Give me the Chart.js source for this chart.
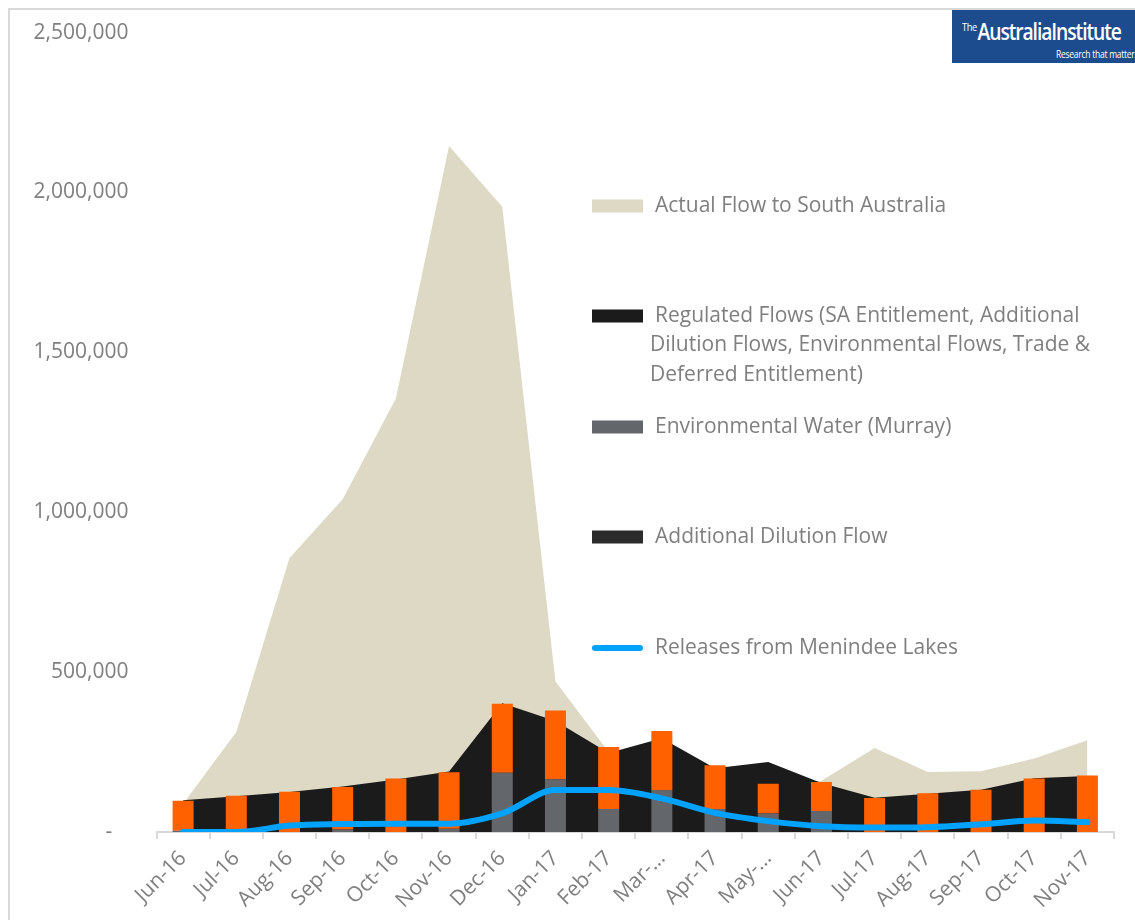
<!DOCTYPE html>
<html>
<head>
<meta charset="utf-8">
<script src="https://cdn.jsdelivr.net/npm/chart.js@4/dist/chart.umd.min.js"></script>
<style>
body{margin:0;background:#fff;}
#wrap{position:relative;width:1135px;height:920px;overflow:hidden;}
#frame{position:absolute;left:8px;top:8px;width:2000px;height:2000px;border-left:2px solid #d9d9d9;border-top:2px solid #d9d9d9;}
#logo{position:absolute;left:952px;top:10px;width:200px;height:53px;background:#1d4c8e;color:#fff;font-family:"Open Sans",sans-serif;}
#logo .name{position:absolute;left:10px;top:5px;font-size:23px;font-weight:600;letter-spacing:-1.3px;white-space:nowrap;transform:scaleX(0.84);transform-origin:left top;}
#logo .name sup{font-size:11px;letter-spacing:-0.5px;vertical-align:9px;margin-right:1px;font-weight:400;}
#logo .tag{position:absolute;left:104px;top:37px;font-size:10px;white-space:nowrap;letter-spacing:-0.3px;transform:scaleX(0.85);transform-origin:left top;}
canvas{position:absolute;left:0;top:0;}
</style>
</head>
<body>
<div id="wrap">
<div id="frame"></div>
<canvas id="myChart" width="1135" height="920"></canvas>
<div id="logo"><div class="name"><sup>The</sup>AustraliaInstitute</div><div class="tag">Research that matters</div></div>
</div>
<script>
const GREY_TEXT = '#7f7f7f'
const FONT = '"Open Sans", sans-serif'

var months = ['Jun-16','Jul-16','Aug-16','Sep-16','Oct-16','Nov-16','Dec-16','Jan-17','Feb-17','Mar-...','Apr-17','May-...','Jun-17','Jul-17','Aug-17','Sep-17','Oct-17','Nov-17']

var actualFlow = [88000,313000,857000,1041000,1356000,2145000,1955000,471000,250000,230000,170000,150000,160000,263000,188000,190000,230000,287000]
var regulatedFlow = [99000,112000,125000,142000,164000,189000,403000,347000,247000,293000,199000,219000,153000,107000,120000,132000,168000,175000]
var envWater = [4000,0,0,8000,0,10000,185000,165000,72000,131000,72000,58000,66000,0,0,0,0,0]
var dilutionFlow = [94000,113000,126000,133000,167000,177000,216000,215000,194000,185000,137000,93000,90000,106000,121000,132000,167000,177000]
var menindee = [0,0,20000,25000,26000,26000,58000,131000,131000,105000,60000,34000,18000,14000,15000,24000,36000,31000]

var yTicks = [0,500000,1000000,1500000,2000000,2500000]

//legend entries drawn by hand, same look as the picture
var legendItems = [
	{kind:'box', color:'#ddd9c4', y:206, lines:['Actual Flow to South Australia']},
	{kind:'box', color:'#1b1b1b', y:316, lines:['Regulated Flows (SA Entitlement, Additional','Dilution Flows, Environmental Flows, Trade &','Deferred Entitlement)']},
	{kind:'box', color:'#63666a', y:427, lines:['Environmental Water (Murray)']},
	{kind:'box', color:'#2b2b2b', y:537, lines:['Additional Dilution Flow']},
	{kind:'line', color:'#00a2ff', y:648, lines:['Releases from Menindee Lakes']}
]

const legendPlugin = {
	id:'handLegend',
	afterDraw(chart){
		var ctx = chart.ctx
		ctx.save()
		ctx.font = '21px ' + FONT
		ctx.textBaseline = 'middle'
		legendItems.forEach(function(it){
			if(it.kind === 'box'){
				ctx.fillStyle = it.color
				ctx.fillRect(592, it.y - 6.5, 51, 13)
			}
			else{
				ctx.strokeStyle = it.color
				ctx.lineWidth = 6
				ctx.lineCap = 'round'
				ctx.beginPath()
				ctx.moveTo(595, it.y)
				ctx.lineTo(640, it.y)
				ctx.stroke()
			}
			ctx.fillStyle = GREY_TEXT
			for(var i = 0;i < it.lines.length;i++){
				ctx.fillText(it.lines[i], i === 0 ? 655 : 650, it.y + i * 29.5)
			}
		})
		ctx.restore()
	}
}

var ctx = document.getElementById('myChart').getContext('2d')
var myChart = new Chart(ctx, {
	type: 'bar',
	data: {
		labels: months,
		datasets: [
			{
				type:'line', label:'Releases from Menindee Lakes', data: menindee,
				borderColor:'#00a2ff', borderWidth:6, borderCapStyle:'round',
				pointRadius:0, cubicInterpolationMode:'monotone', fill:false, order:0, stack:'s1'
			},
			{
				label:'Environmental Water (Murray)', data: envWater,
				backgroundColor:'#63666a', stack:'bars', order:1,
				categoryPercentage:1, barPercentage:0.395
			},
			{
				label:'Additional Dilution Flow', data: dilutionFlow,
				backgroundColor:'#ff6100', stack:'bars', order:1,
				categoryPercentage:1, barPercentage:0.395
			},
			{
				type:'line', label:'Regulated Flows', data: regulatedFlow,
				backgroundColor:'#1b1b1b', borderColor:'rgba(0,0,0,0)', borderWidth:0,
				pointRadius:0, tension:0, fill:'origin', order:2, stack:'s2'
			},
			{
				type:'line', label:'Actual Flow to South Australia', data: actualFlow,
				backgroundColor:'#ddd9c4', borderColor:'rgba(0,0,0,0)', borderWidth:0,
				pointRadius:0, tension:0, fill:'origin', order:3, stack:'s3'
			}
		]
	},
	options: {
		responsive:false,
		animation:false,
		layout:{padding:{left:0, right:21, top:20, bottom:0}},
		plugins:{legend:{display:false}, tooltip:{enabled:false}},
		scales:{
			x:{
				stacked:true,
				offset:true,
				grid:{drawOnChartArea:false, drawTicks:true, tickLength:7, color:'#d9d9d9', lineWidth:2, offset:true},
				border:{display:true, color:'#d9d9d9', width:2},
				ticks:{color:GREY_TEXT, font:{family:FONT, size:21}, minRotation:45, maxRotation:45, autoSkip:false, padding:7},
				afterFit:function(scale){ scale.height = 88 }
			},
			y:{
				stacked:true,
				min:0, max:2500000,
				afterBuildTicks:function(scale){ scale.ticks = yTicks.map(function(v){return {value:v}}) },
				grid:{display:false},
				border:{display:false},
				ticks:{
					color:GREY_TEXT, font:{family:FONT, size:21}, padding:20,
					callback:function(v){ return v === 0 ? '-   ' : v.toLocaleString('en-US') }
				},
				afterFit:function(scale){ scale.width = 156.5 }
			}
		}
	},
	plugins:[legendPlugin]
})
</script>
</body>
</html>
